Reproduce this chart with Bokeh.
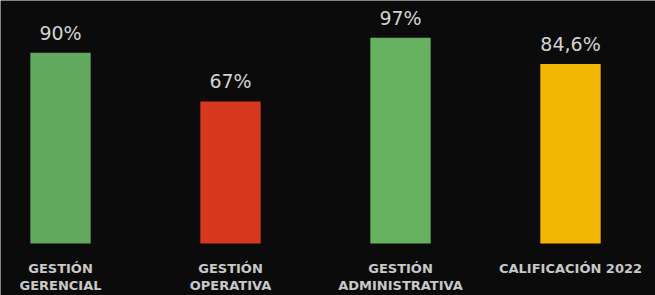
from bokeh.plotting import figure
from bokeh.models import Range1d, ColumnDataSource
from bokeh.core.properties import value
from bokeh.embed import file_html
from bokeh.resources import INLINE

categories = ["GESTIÓN GERENCIAL", "GESTIÓN OPERATIVA", "GESTIÓN ADMINISTRATIVA", "CALIFICACIÓN 2022"]
label_line1 = ["GESTIÓN", "GESTIÓN", "GESTIÓN", "CALIFICACIÓN 2022"]
label_line2 = ["GERENCIAL", "OPERATIVA", "ADMINISTRATIVA", ""]
values = [90, 67, 97, 84.6]
value_labels = ["90%", "67%", "97%", "84,6%"]
colors = ["#62a95d", "#d8381e", "#66b261", "#f2b705"]

xs = list(range(len(categories)))
src = ColumnDataSource(dict(x=xs, top=values, color=colors, vlab=value_labels,
                            l1=label_line1, l2=label_line2))

W, H = 655, 295
p = figure(width=W, height=H, output_backend="svg", toolbar_location=None,
           x_range=Range1d(-0.353, 3.5), y_range=Range1d(-24.5, 114.6),
           min_border=0, min_border_left=0, min_border_right=0,
           min_border_top=0, min_border_bottom=0)
p.background_fill_color = "#0b0b0b"
p.border_fill_color = "#0b0b0b"
p.outline_line_color = None
p.axis.visible = False
p.grid.visible = False

p.vbar(x="x", top="top", bottom=0, width=0.355, fill_color="color",
       line_color=None, source=src)

p.text(x="x", y="top", text="vlab", source=src, text_align="center",
       text_baseline="bottom", y_offset=-9, text_font=value("DejaVu Sans"),
       text_font_size="19px", text_color="#d2d2d2")

p.text(x="x", y=0, text="l1", source=src, text_align="center",
       text_baseline="middle", y_offset=25, text_font=value("DejaVu Sans"),
       text_font_size="13px", text_font_style="bold", text_color="#c8c8c8")
p.text(x="x", y=0, text="l2", source=src, text_align="center",
       text_baseline="middle", y_offset=42, text_font=value("DejaVu Sans"),
       text_font_size="13px", text_font_style="bold", text_color="#c8c8c8")

html = file_html(p, INLINE)
html = html.replace("<body>", '<body style="background:#0b0b0b">', 1)
open("out.html", "w").write(html)
